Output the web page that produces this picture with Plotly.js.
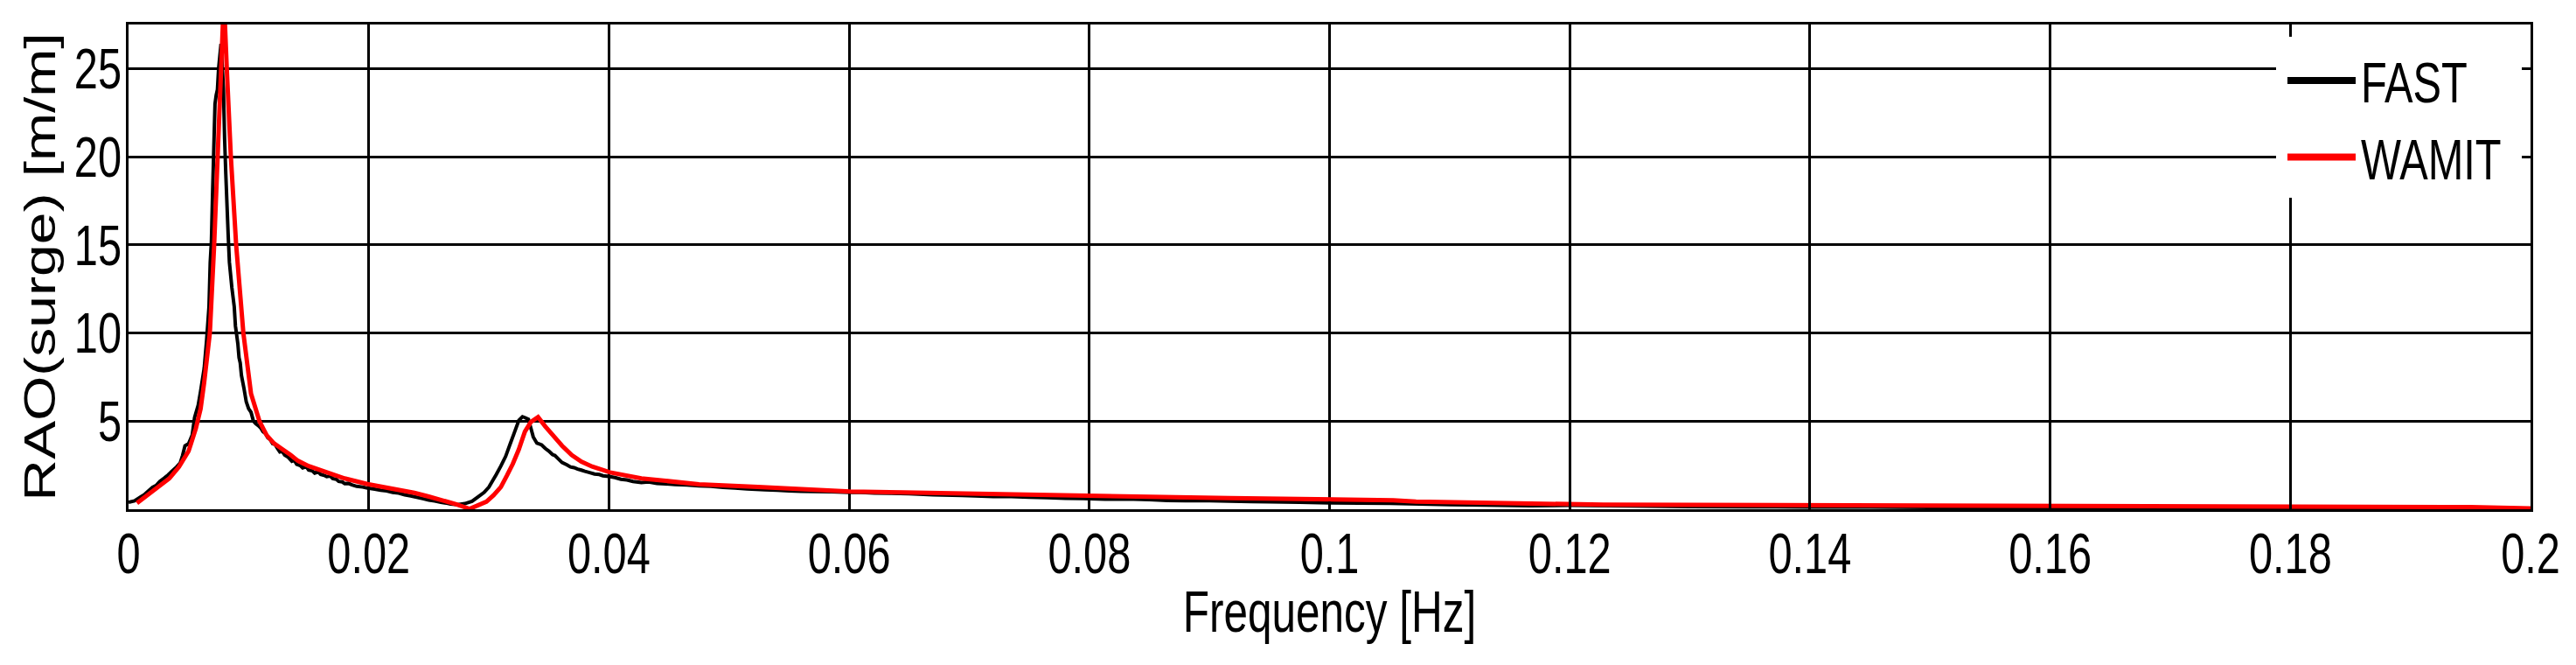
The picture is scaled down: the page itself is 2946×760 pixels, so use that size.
<!DOCTYPE html>
<html>
<head>
<meta charset="utf-8">
<script src="https://cdn.plot.ly/plotly-3.0.1.min.js"></script>
<style>
  html, body { margin: 0; padding: 0; background: #fff; }
  #chart { width: 2946px; height: 760px; }
</style>
</head>
<body>
<div id="chart"></div>
<script>
// FAST (black): [frequency Hz, RAO(surge) m/m]
const fastPoints = [
  [0.0000, 0.40], [0.0005, 0.48], [0.0010, 0.70], [0.0013, 0.82], [0.0016, 1.00],
  [0.0020, 1.25], [0.0023, 1.35], [0.0026, 1.58], [0.0030, 1.78], [0.0033, 1.95],
  [0.0036, 2.15], [0.0040, 2.40], [0.0043, 2.62], [0.0045, 3.05], [0.0047, 3.60],
  [0.0050, 3.72], [0.0053, 4.20], [0.0055, 5.20], [0.0058, 5.90], [0.0060, 6.70],
  [0.0063, 8.00], [0.0065, 9.60], [0.0067, 11.5], [0.0068, 14.0], [0.0069, 15.2],
  [0.0070, 18.0], [0.0071, 20.5], [0.0072, 23.0], [0.0073, 23.5], [0.0074, 23.8],
  [0.0075, 25.0], [0.0077, 26.4], [0.0078, 25.2], [0.0079, 23.9], [0.0080, 21.0],
  [0.0081, 19.0], [0.0083, 15.5], [0.0084, 14.0], [0.0086, 12.6], [0.0088, 11.5],
  [0.0089, 10.4], [0.0090, 9.90], [0.0091, 9.40], [0.0092, 8.60], [0.0093, 8.30],
  [0.0094, 7.60], [0.0096, 6.90], [0.0098, 6.10], [0.0100, 5.70], [0.0102, 5.50],
  [0.0104, 5.00], [0.0106, 4.85], [0.0108, 4.75], [0.0110, 4.62], [0.0112, 4.40],
  [0.0114, 4.30], [0.0116, 4.05], [0.0118, 3.95], [0.0120, 3.72], [0.0122, 3.68],
  [0.0124, 3.45], [0.0126, 3.25], [0.0128, 3.28], [0.0130, 3.08], [0.0133, 2.95],
  [0.0136, 2.72], [0.0138, 2.78], [0.0140, 2.55], [0.0143, 2.48], [0.0145, 2.35],
  [0.0148, 2.42], [0.0150, 2.22], [0.0153, 2.18], [0.0155, 2.05], [0.0158, 2.12],
  [0.0160, 1.98], [0.0163, 1.92], [0.0165, 1.85], [0.0168, 1.88], [0.0170, 1.74],
  [0.0173, 1.70], [0.0175, 1.58], [0.0178, 1.55], [0.0180, 1.45], [0.0183, 1.47],
  [0.0186, 1.38], [0.0190, 1.30], [0.0195, 1.26], [0.0199, 1.20], [0.0205, 1.14],
  [0.0210, 1.08], [0.0215, 1.04], [0.0220, 0.95], [0.0225, 0.92], [0.0230, 0.82],
  [0.0235, 0.76], [0.0240, 0.68], [0.0245, 0.60], [0.0250, 0.52], [0.0255, 0.47],
  [0.0260, 0.40], [0.0265, 0.34], [0.0268, 0.30], [0.0274, 0.26], [0.0280, 0.32],
  [0.0286, 0.45], [0.0291, 0.70], [0.0296, 0.95], [0.0300, 1.25], [0.0303, 1.60],
  [0.0306, 1.95], [0.0310, 2.45], [0.0314, 3.00], [0.0318, 3.75], [0.0321, 4.30],
  [0.0325, 5.05], [0.0328, 5.25], [0.0330, 5.20], [0.0333, 5.10], [0.0335, 4.60],
  [0.0337, 4.10], [0.0340, 3.75], [0.0344, 3.65], [0.0347, 3.45], [0.0350, 3.30],
  [0.0353, 3.10], [0.0355, 3.05], [0.0358, 2.85], [0.0361, 2.65], [0.0365, 2.52],
  [0.0368, 2.40], [0.0371, 2.36], [0.0374, 2.28], [0.0377, 2.22], [0.0380, 2.15],
  [0.0384, 2.08], [0.0388, 2.00], [0.0392, 1.97], [0.0395, 1.90], [0.0400, 1.86],
  [0.0405, 1.80], [0.0410, 1.70], [0.0415, 1.66], [0.0420, 1.58], [0.0427, 1.52],
  [0.0433, 1.55], [0.0440, 1.46], [0.0447, 1.44], [0.0455, 1.40], [0.0465, 1.38],
  [0.0475, 1.33], [0.0485, 1.30], [0.0495, 1.24], [0.0505, 1.20], [0.0515, 1.15],
  [0.0530, 1.10], [0.0540, 1.08], [0.0550, 1.04], [0.0560, 1.02], [0.0572, 1.00],
  [0.0585, 0.99], [0.0600, 0.96], [0.0610, 0.95], [0.0621, 0.92], [0.0635, 0.90],
  [0.0650, 0.88], [0.0670, 0.82], [0.0694, 0.78], [0.0705, 0.76], [0.0720, 0.72],
  [0.0735, 0.72], [0.0750, 0.68], [0.0765, 0.66], [0.0780, 0.62], [0.0795, 0.61],
  [0.0813, 0.57], [0.0830, 0.58], [0.0850, 0.54], [0.0865, 0.50], [0.0880, 0.48],
  [0.0900, 0.48], [0.0917, 0.46], [0.0935, 0.44], [0.0950, 0.42], [0.0975, 0.40],
  [0.1000, 0.36], [0.1025, 0.35], [0.1050, 0.33], [0.1075, 0.30], [0.1100, 0.26],
  [0.1130, 0.24], [0.1167, 0.20], [0.1200, 0.22], [0.1250, 0.18], [0.1300, 0.15],
  [0.1350, 0.14], [0.1400, 0.12], [0.1450, 0.12], [0.1500, 0.10], [0.1600, 0.09],
  [0.1700, 0.08], [0.1800, 0.10], [0.1900, 0.07], [0.2000, 0.05]
];

// WAMIT (red): [frequency Hz, RAO(surge) m/m]
const wamitPoints = [
  [0.0007, 0.35], [0.0015, 0.75], [0.0025, 1.25], [0.0034, 1.75], [0.0042, 2.40],
  [0.0050, 3.30], [0.0056, 4.57], [0.0060, 5.70], [0.0063, 7.20], [0.0065, 8.40],
  [0.00677, 10.0], [0.00713, 15.0], [0.00745, 20.0], [0.00774, 25.0], [0.00794, 29.0],
  [0.00818, 25.0], [0.00852, 20.0], [0.00896, 15.0], [0.00956, 10.0], [0.0102, 6.55],
  [0.0109, 5.00], [0.0115, 4.20], [0.0121, 3.74], [0.0135, 3.08], [0.0141, 2.75],
  [0.0150, 2.45], [0.0165, 2.09], [0.0180, 1.75], [0.0199, 1.43], [0.0220, 1.18],
  [0.0238, 0.93], [0.0250, 0.72], [0.0262, 0.51], [0.0273, 0.28], [0.0284, 0.02],
  [0.0291, 0.20], [0.0298, 0.43], [0.0304, 0.80], [0.0310, 1.26], [0.0315, 1.90],
  [0.0320, 2.58], [0.0325, 3.40], [0.0330, 4.40], [0.0335, 4.95], [0.0341, 5.23],
  [0.0347, 4.70], [0.0354, 4.15], [0.0361, 3.60], [0.0369, 3.08], [0.0377, 2.70],
  [0.0386, 2.42], [0.0401, 2.09], [0.0427, 1.75], [0.0450, 1.58], [0.0475, 1.42],
  [0.0524, 1.26], [0.0572, 1.09], [0.0601, 1.00], [0.0645, 0.96], [0.0694, 0.90],
  [0.0708, 0.84], [0.0813, 0.76], [0.0917, 0.63], [0.1053, 0.51], [0.1072, 0.43],
  [0.1228, 0.26], [0.1436, 0.23], [0.1600, 0.16], [0.1800, 0.13], [0.1950, 0.12],
  [0.2000, 0.05]
];

const seriesNames = ['FAST', 'WAMIT'];
const xTitle = 'Frequency [Hz]';
const yTitle = 'RAO(surge) [m/m]';
const yTickVals = [5, 10, 15, 20, 25];

// ---- styling / placement constants ----
const FONT = '"Liberation Sans", Arial, sans-serif';
const TICK_SIZE = 65, TITLE_SIZE = 66, LEGEND_SIZE = 65;
const ASC = 0.905, CAP = 0.716;      // Liberation Sans metrics (em)
const SQUEEZE = 0.75;                 // horizontal squeeze of the original lettering
const PLOT = { l: 147, r: 2894, t: 28, b: 582 };
const TARGET = {
  xTickBaseline: 655, xTitleBaseline: 722, yTickRight: 139, yTitleCenter: 46,
  legendTextLeft: 2700, legendFirstCap: 94, legendLineLen: 78, legendGap: 6,
  legendBgLeft: 2603, legendBgRight: 2884, legendBgTop: 42, legendBgBottom: 226
};

const traces = [
  { x: fastPoints.map(p => p[0]), y: fastPoints.map(p => p[1]), name: seriesNames[0],
    type: 'scatter', mode: 'lines', line: { color: '#000000', width: 4, simplify: false } },
  { x: wamitPoints.map(p => p[0]), y: wamitPoints.map(p => p[1]), name: seriesNames[1],
    type: 'scatter', mode: 'lines', line: { color: '#ff0000', width: 5 } }
];

const axisCommon = {
  showgrid: true, gridcolor: '#000000', gridwidth: 3,
  showline: true, linecolor: '#000000', linewidth: 3,
  mirror: 'ticks', ticks: 'inside', ticklen: 9, tickwidth: 3, tickcolor: '#000000',
  zeroline: false, automargin: false,
  tickfont: { family: FONT, size: TICK_SIZE, color: '#000000' }
};

const layout = {
  width: 2946, height: 760,
  margin: { l: PLOT.l, r: 2946 - PLOT.r, t: PLOT.t, b: 760 - PLOT.b },
  paper_bgcolor: '#ffffff', plot_bgcolor: '#ffffff',
  showlegend: true,
  legend: {
    x: 0.8977, xanchor: 'left', y: 0.97, yanchor: 'top',
    bgcolor: '#ffffff', borderwidth: 0, itemwidth: 80,
    font: { family: FONT, size: LEGEND_SIZE, color: '#000000' },
    tracegroupgap: 0
  },
  xaxis: Object.assign({}, axisCommon, {
    range: [0, 0.2], tick0: 0, dtick: 0.02,
    ticklabelstandoff: 6,
    title: { text: xTitle, font: { family: FONT, size: TITLE_SIZE, color: '#000000' }, standoff: 4 }
  }),
  yaxis: Object.assign({}, axisCommon, {
    range: [0, 27.5], tickvals: yTickVals,
    ticklabelstandoff: 4,
    title: { text: yTitle, font: { family: FONT, size: TITLE_SIZE, color: '#000000' }, standoff: 10 }
  })
};

function baselineOf(el, size) { return el.getBoundingClientRect().top + ASC * size; }
function squeezeX(el, s, mode) {
  const bb = el.getBBox();
  const cx = mode === 'start' ? bb.x : (mode === 'end' ? bb.x + bb.width : bb.x + bb.width / 2);
  const t = el.getAttribute('transform') || '';
  el.setAttribute('transform', t + ' translate(' + cx + ',0) scale(' + s + ',1) translate(' + (-cx) + ',0)');
}
function squeezeLocalY(el, s) {
  const bb = el.getBBox();
  const cy = bb.y + bb.height / 2;
  const t = el.getAttribute('transform') || '';
  el.setAttribute('transform', t + ' translate(0,' + cy + ') scale(1,' + s + ') translate(0,' + (-cy) + ')');
}
function shift(el, dx, dy) {
  const t = el.getAttribute('transform') || '';
  el.setAttribute('transform', 'translate(' + dx + ',' + dy + ') ' + t);
}

const gd = document.getElementById('chart');
const pw = PLOT.r - PLOT.l, ph = PLOT.b - PLOT.t;

Plotly.newPlot(gd, traces, layout, { staticPlot: true, displayModeBar: false })
.then(function () {
  const fl = gd._fullLayout;
  const xt = gd.querySelector('.xtick text');
  const yt = gd.querySelector('.ytick text');
  const lt = gd.querySelector('.legendtext');
  const upd = {};
  if (xt) upd['xaxis.ticklabelstandoff'] = Math.round(fl.xaxis.ticklabelstandoff + (TARGET.xTickBaseline - baselineOf(xt, TICK_SIZE)));
  if (yt) upd['yaxis.ticklabelstandoff'] = Math.round(fl.yaxis.ticklabelstandoff + (yt.getBoundingClientRect().right - TARGET.yTickRight));
  if (lt) {
    const r = lt.getBoundingClientRect();
    const cap = r.top + (ASC - CAP / 2) * LEGEND_SIZE;
    upd['legend.x'] = fl.legend.x + (TARGET.legendTextLeft - r.left) / pw;
    upd['legend.y'] = fl.legend.y - (TARGET.legendFirstCap - cap) / ph;
  }
  return Plotly.relayout(gd, upd);
})
.then(function () {
  const fl = gd._fullLayout;
  const xti = gd.querySelector('.xtitle');
  const yti = gd.querySelector('.ytitle');
  const upd = {};
  if (xti) upd['xaxis.title.standoff'] = Math.max(0, Math.round(fl.xaxis.title.standoff + (TARGET.xTitleBaseline - baselineOf(xti, TITLE_SIZE))));
  if (yti) {
    const r = yti.getBoundingClientRect();
    upd['yaxis.title.standoff'] = Math.max(0, Math.round(fl.yaxis.title.standoff + ((r.left + r.right) / 2 - TARGET.yTitleCenter)));
  }
  return Plotly.relayout(gd, upd);
})
.then(function () {
  const xti = gd.querySelector('.xtitle');
  const yti = gd.querySelector('.ytitle');
  if (xti) {
    shift(xti, 0, TARGET.xTitleBaseline - baselineOf(xti, TITLE_SIZE));
    squeezeX(xti, SQUEEZE, 'middle');
  }
  if (yti) {
    const r = yti.getBoundingClientRect();
    shift(yti, TARGET.yTitleCenter - (r.left + r.right) / 2, 0);
    squeezeLocalY(yti, SQUEEZE);
  }
  gd.querySelectorAll('.xtick text').forEach(function (el) { squeezeX(el, SQUEEZE, 'middle'); });
  gd.querySelectorAll('.ytick text').forEach(function (el) { squeezeX(el, SQUEEZE, 'end'); });

  // legend: long thick sample lines, narrow text, white box like the original
  gd.querySelectorAll('.legend .traces').forEach(function (tr) {
    const txt = tr.querySelector('.legendtext');
    if (!txt) return;
    const tl = txt.getBoundingClientRect().left;
    tr.querySelectorAll('.legendlines path').forEach(function (p) {
      const pr = p.getBoundingClientRect();
      const pb = p.getBBox();
      const off = pr.left - pb.x;
      const start = (tl - TARGET.legendGap - TARGET.legendLineLen) - off;
      p.setAttribute('d', 'M' + start + ',0h' + TARGET.legendLineLen);
      p.style.strokeWidth = '8px';
    });
    squeezeX(txt, SQUEEZE, 'start');
  });
  const bg = gd.querySelector('.legend .bg');
  if (bg) {
    const br = bg.getBoundingClientRect();
    const bx = parseFloat(bg.getAttribute('x') || 0);
    const by = parseFloat(bg.getAttribute('y') || 0);
    bg.setAttribute('x', bx + (TARGET.legendBgLeft - br.left));
    bg.setAttribute('y', by + (TARGET.legendBgTop - br.top));
    bg.setAttribute('width', TARGET.legendBgRight - TARGET.legendBgLeft);
    bg.setAttribute('height', TARGET.legendBgBottom - TARGET.legendBgTop);
  }
});
</script>
</body>
</html>
